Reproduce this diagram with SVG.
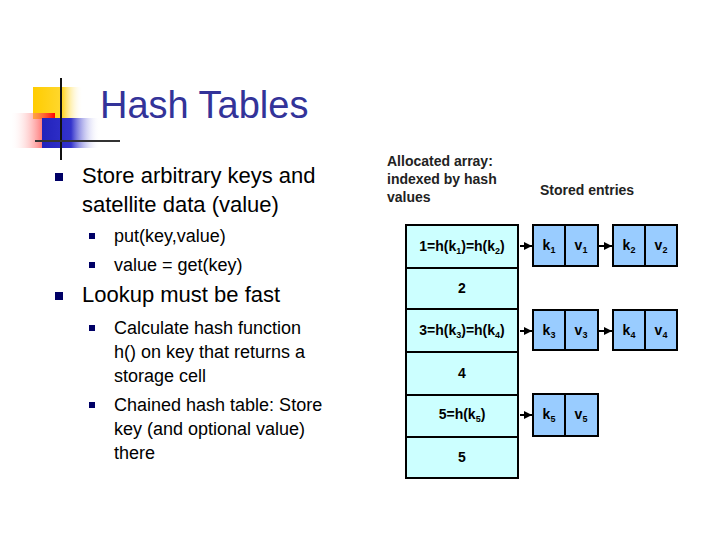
<svg xmlns="http://www.w3.org/2000/svg" width="720" height="540" viewBox="0 0 720 540">
<defs>
<linearGradient id="gy" x1="0" x2="1"><stop offset="0" stop-color="#ffcc00"/><stop offset="0.6" stop-color="#ffd830"/><stop offset="1" stop-color="#fff" stop-opacity="0"/></linearGradient>
<linearGradient id="gr" x1="1" x2="0"><stop offset="0" stop-color="#ff0000"/><stop offset="1" stop-color="#fff" stop-opacity="0"/></linearGradient>
<linearGradient id="gb" x1="0" x2="1"><stop offset="0" stop-color="#2222bb"/><stop offset="0.5" stop-color="#3333cc"/><stop offset="1" stop-color="#fff" stop-opacity="0"/></linearGradient>
<marker id="ah" viewBox="0 0 10 10" refX="10" refY="5" markerWidth="4" markerHeight="4" orient="auto"><path d="M0,0L10,5L0,10z" fill="#000"/></marker>
</defs>
<style>
.t{font-family:"Liberation Sans",Arial,sans-serif;fill:#000}
.b{fill:#000066}
.cell{fill:#ccffff;stroke:#000;stroke-width:2}
.ent{fill:#99ccff;stroke:#000;stroke-width:2}
.d{font-family:"Liberation Sans",Arial,sans-serif;font-weight:bold;font-size:14px;fill:#000;text-anchor:middle}
.s{font-size:9px}
.c{stroke:#000;stroke-width:2;fill:none;marker-end:url(#ah)}
</style>
<g id="logo">
<rect x="33" y="87" width="50" height="32" fill="url(#gy)"/>
<rect x="10" y="113" width="45" height="35" fill="url(#gr)"/>
<rect x="42" y="118" width="58" height="30" fill="url(#gb)"/>
<line x1="61" y1="78" x2="61" y2="160" stroke="#111" stroke-width="2"/>
<line x1="35" y1="141" x2="120" y2="141" stroke="#333" stroke-width="2"/>
</g>
<text class="t" x="100" y="118" font-size="38" fill="#333399" style="fill:#333399">Hash Tables</text>
<g id="bullets">
<rect class="b" x="55" y="173" width="8" height="8"/>
<rect class="b" x="55" y="292" width="8" height="8"/>
<rect class="b" x="89" y="233" width="6" height="6"/>
<rect class="b" x="89" y="262" width="6" height="6"/>
<rect class="b" x="89" y="325" width="6" height="6"/>
<rect class="b" x="89" y="402" width="6" height="6"/>
<text class="t" font-size="22"><tspan x="82" y="183">Store arbitrary keys and</tspan><tspan x="82" y="212">satellite data (value)</tspan><tspan x="82" y="302">Lookup must be fast</tspan></text>
<text class="t" font-size="18"><tspan x="114" y="242">put(key,value)</tspan><tspan x="114" y="271">value = get(key)</tspan><tspan x="114" y="334">Calculate hash function</tspan><tspan x="114" y="358">h() on key that returns a</tspan><tspan x="114" y="382">storage cell</tspan><tspan x="114" y="411">Chained hash table: Store</tspan><tspan x="114" y="435">key (and optional value)</tspan><tspan x="114" y="459">there</tspan></text>
</g>
<g id="labels">
<text class="t" font-size="14" font-weight="bold" style="fill:#222"><tspan x="387" y="166">Allocated array:</tspan><tspan x="387" y="184">indexed by hash</tspan><tspan x="387" y="202">values</tspan><tspan x="540" y="195">Stored entries</tspan></text>
</g>
<g id="array">
<rect class="cell" x="406" y="225" width="112" height="43"/>
<rect class="cell" x="406" y="268" width="112" height="41"/>
<rect class="cell" x="406" y="309" width="112" height="43"/>
<rect class="cell" x="406" y="352" width="112" height="43"/>
<rect class="cell" x="406" y="395" width="112" height="42"/>
<rect class="cell" x="406" y="437" width="112" height="41"/>
<text class="d" x="462" y="251">1=h(k<tspan class="s" dy="3">1</tspan><tspan dy="-3">)=h(k</tspan><tspan class="s" dy="3">2</tspan><tspan dy="-3">)</tspan></text>
<text class="d" x="462" y="293">2</text>
<text class="d" x="462" y="335">3=h(k<tspan class="s" dy="3">3</tspan><tspan dy="-3">)=h(k</tspan><tspan class="s" dy="3">4</tspan><tspan dy="-3">)</tspan></text>
<text class="d" x="462" y="378">4</text>
<text class="d" x="462" y="419">5=h(k<tspan class="s" dy="3">5</tspan><tspan dy="-3">)</tspan></text>
<text class="d" x="462" y="462">5</text>
</g>
<g id="e1"><rect class="ent" x="533" y="225" width="32" height="41"/><rect class="ent" x="565" y="225" width="33" height="41"/>
<text class="d" x="549" y="250">k<tspan class="s" dy="3">1</tspan></text><text class="d" x="581" y="250">v<tspan class="s" dy="3">1</tspan></text></g>
<g id="e2"><rect class="ent" x="613" y="225" width="32" height="41"/><rect class="ent" x="645" y="225" width="32" height="41"/>
<text class="d" x="629" y="250">k<tspan class="s" dy="3">2</tspan></text><text class="d" x="661" y="250">v<tspan class="s" dy="3">2</tspan></text></g>
<g id="e3"><rect class="ent" x="533" y="310" width="32" height="40"/><rect class="ent" x="565" y="310" width="33" height="40"/>
<text class="d" x="549" y="335">k<tspan class="s" dy="3">3</tspan></text><text class="d" x="581" y="335">v<tspan class="s" dy="3">3</tspan></text></g>
<g id="e4"><rect class="ent" x="613" y="310" width="32" height="40"/><rect class="ent" x="645" y="310" width="32" height="40"/>
<text class="d" x="629" y="335">k<tspan class="s" dy="3">4</tspan></text><text class="d" x="661" y="335">v<tspan class="s" dy="3">4</tspan></text></g>
<g id="e5"><rect class="ent" x="533" y="394" width="32" height="42"/><rect class="ent" x="565" y="394" width="33" height="42"/>
<text class="d" x="549" y="419">k<tspan class="s" dy="3">5</tspan></text><text class="d" x="581" y="419">v<tspan class="s" dy="3">5</tspan></text></g>
<g id="connectors">
<line class="c" x1="520" y1="246" x2="532" y2="246"/>
<line class="c" x1="599" y1="246" x2="612" y2="246"/>
<line class="c" x1="520" y1="331" x2="532" y2="331"/>
<line class="c" x1="599" y1="331" x2="612" y2="331"/>
<line class="c" x1="520" y1="415" x2="532" y2="415"/>
</g>
</svg>
